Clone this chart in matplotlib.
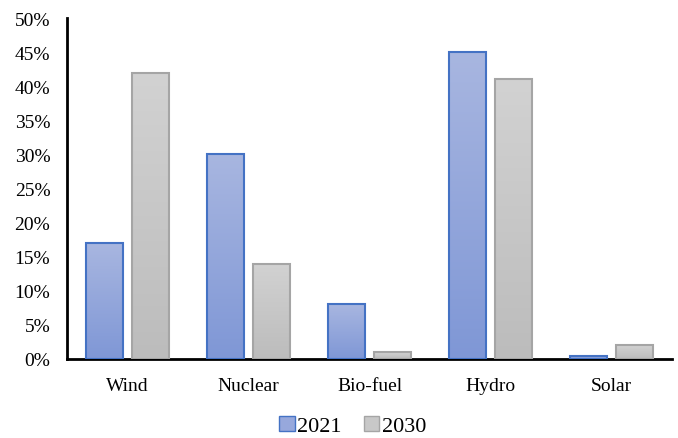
import numpy as np
import matplotlib.pyplot as plt
from matplotlib.patches import Patch
from matplotlib.colors import LinearSegmentedColormap

plt.rcParams['font.family'] = ['Liberation Serif', 'DejaVu Serif']

categories = ['Wind', 'Nuclear', 'Bio-fuel', 'Hydro', 'Solar']
share_2021 = [17, 30, 8, 45, 0.5]
share_2030 = [42, 14, 1, 41, 2]

fig = plt.figure(figsize=(6.78, 4.39), dpi=100)
ax = fig.add_axes([67 / 678, 79 / 439, 605 / 678, 341 / 439])

x = np.arange(len(categories))
w = 0.31
off = 0.19

blue_cmap = LinearSegmentedColormap.from_list('b', ['#7f97d6', '#a8b6e0'])
gray_cmap = LinearSegmentedColormap.from_list('g', ['#bcbcbc', '#d2d2d2'])


def gradient_bars(xs, vals, cmap, edge):
    bars = ax.bar(xs, vals, width=w, facecolor='none', edgecolor=edge, linewidth=1.5, zorder=3)
    grad = np.linspace(0, 1, 256).reshape(-1, 1)
    for b in bars:
        x0, y0 = b.get_x(), b.get_y()
        x1, y1 = x0 + b.get_width(), y0 + b.get_height()
        im = ax.imshow(grad, cmap=cmap, extent=[x0, x1, y0, y1], origin='lower',
                       aspect='auto', zorder=2)
        im.set_clip_path(b)
    return bars


gradient_bars(x - off, share_2021, blue_cmap, '#4472c4')
gradient_bars(x + off, share_2030, gray_cmap, '#a5a5a5')

ax.set_xlim(-0.5, len(categories) - 0.5)
ax.set_ylim(0, 50)
ax.set_yticks(np.arange(0, 51, 5))
ax.set_yticklabels([f'{v}%' for v in range(0, 51, 5)], fontsize=14)
ax.set_xticks(x)
ax.set_xticklabels(categories, fontsize=14)
ax.tick_params(length=0)
ax.tick_params(axis='y', pad=12)
ax.tick_params(axis='x', pad=13)
for s in ['top', 'right']:
    ax.spines[s].set_visible(False)
for s in ['left', 'bottom']:
    ax.spines[s].set_linewidth(2)
    ax.spines[s].set_color('black')

handles = [Patch(facecolor='#97a8dc', edgecolor='#4472c4', label='2021'),
           Patch(facecolor='#c8c8c8', edgecolor='#a5a5a5', label='2030')]
fig.legend(handles=handles, loc='center', bbox_to_anchor=(0.52, 0.027), ncol=2,
           frameon=False, fontsize=16, handlelength=0.7, handleheight=0.7,
           handletextpad=0.1, columnspacing=1.0)

fig.savefig('out.png', dpi=100)
